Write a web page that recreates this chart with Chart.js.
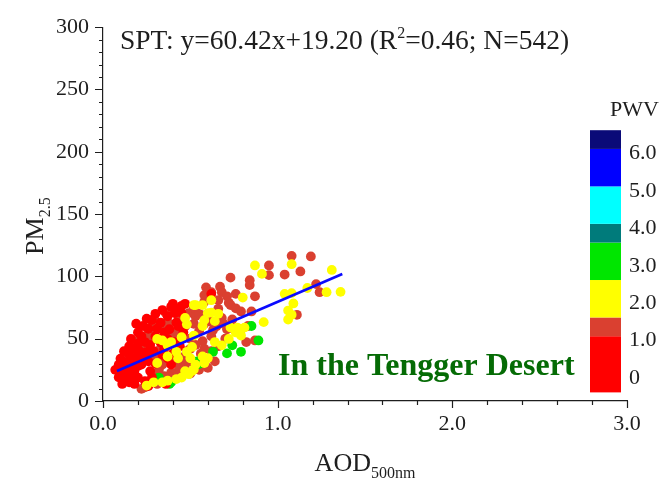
<!DOCTYPE html>
<html>
<head>
<meta charset="utf-8">
<script src="https://cdn.jsdelivr.net/npm/chart.js@4.4.1/dist/chart.umd.min.js"></script>
<style>
  html, body { margin: 0; padding: 0; background: #ffffff; }
  #wrap { width: 662px; height: 482px; }
</style>
</head>
<body>
<div id="wrap"><canvas id="c" width="662" height="482"></canvas></div>
<script>
// AOD(500 nm) / PM2.5 pairs, grouped by precipitable water vapour class
const pwvUnder1 = [
  [0.11,13.7],[0.15,15.0],[0.18,13.7],[0.09,29.2],[0.13,30.5],[0.16,31.8],[0.11,21.5],[0.15,22.7],
  [0.18,24.0],[0.20,18.8],[0.15,37.0],[0.18,42.1],[0.16,49.8],[0.20,55.0],[0.23,60.2],[0.24,47.3],
  [0.25,39.5],[0.26,31.8],[0.22,29.2],[0.27,24.0],[0.33,62.8],[0.37,68.0],[0.41,70.5],[0.39,75.7],
  [0.45,70.5],[0.35,55.0],[0.38,57.6],[0.43,60.2],[0.37,49.8],[0.41,47.3],[0.46,55.0],[0.34,37.0],
  [0.37,34.3],[0.39,29.2],[0.36,13.7],[0.40,78.0],[0.45,76.4],[0.62,86.0],[0.07,25.0],[0.09,19.0],
  [0.12,17.0],[0.13,26.0],[0.16,19.0],[0.17,27.0],[0.19,35.0],[0.21,40.0],[0.20,46.0],[0.22,52.0],
  [0.26,58.0],[0.28,65.0],[0.30,70.0],[0.27,45.0],[0.29,40.0],[0.31,58.0],[0.33,47.0],[0.35,42.0],
  [0.23,35.0],[0.20,28.0],[0.24,16.0],[0.28,19.0],[0.15,44.0],[0.12,40.0],[0.10,34.0],[0.19,62.0],
  [0.25,66.0],[0.30,52.0],[0.34,73.0],[0.43,73.0],[0.42,63.0],[0.47,78.0],[0.44,44.0],[0.40,38.0],
  [0.30,30.0],[0.26,12.0]
];
const pwv1to1_5 = [
  [1.08,116.5],[1.19,116.0],[0.95,108.8],[0.95,101.0],[1.04,101.5],[1.13,104.0],[0.73,99.0],[0.84,97.0],
  [0.84,93.0],[1.22,93.8],[1.24,87.3],[0.87,84.0],[0.76,86.0],[0.72,78.8],[0.59,91.2],[0.67,91.7],
  [0.68,87.3],[0.62,87.3],[0.71,84.0],[0.73,77.0],[0.76,74.4],[0.79,71.9],[0.85,71.9],[0.58,79.6],
  [0.66,80.9],[0.36,70.5],[0.43,69.2],[0.49,70.5],[0.53,68.0],[0.68,66.7],[0.74,65.4],[0.71,57.6],
  [0.75,57.6],[0.79,57.6],[0.83,60.2],[0.82,47.3],[0.87,48.6],[0.64,31.8],[0.60,26.6],[0.47,29.2],
  [0.43,24.0],[0.39,22.7],[0.24,11.0],[0.22,9.8],[1.11,69.2],[0.13,34.3],[0.17,31.8],[0.19,39.5],
  [0.22,44.7],[0.26,55.0],[0.28,60.2],[0.30,49.8],[0.33,42.1],[0.30,34.3],[0.34,29.2],[0.29,21.5],
  [0.31,13.7],[0.38,62.0],[0.42,55.0],[0.47,60.0],[0.50,50.0],[0.55,56.0],[0.58,62.0],[0.53,45.0],
  [0.48,40.0],[0.45,35.0],[0.56,38.0],[0.62,52.0],[0.66,44.0],[0.60,70.0],[0.40,52.0],[0.36,45.0],
  [0.27,38.0],[0.32,25.0],[0.35,20.0],[0.42,33.0],[0.50,32.0],[0.55,25.0],[0.62,40.0],[0.70,50.0],
  [0.65,60.0],[0.52,75.0],[0.45,64.0],[0.14,28.0],[0.18,48.0],[0.25,50.0],[0.30,64.0],[0.58,85.0],
  [0.50,22.0],[0.52,62.0],[0.50,42.0],[0.57,48.0],[0.63,57.0],[0.69,62.0],[0.66,74.0],[0.55,70.0],
  [0.61,64.0],[0.35,62.0],[0.32,35.0],[0.28,52.0],[0.21,36.0],[0.44,28.0],[0.58,42.0]
];
const pwv1_5to2_5 = [
  [0.87,108.8],[1.08,109.8],[1.31,105.2],[0.91,102.0],[1.17,90.7],[1.28,87.3],[1.36,87.6],[1.04,86.0],
  [1.08,86.6],[1.09,78.3],[1.06,72.6],[1.08,69.2],[1.06,65.4],[0.92,63.3],[0.80,83.0],[0.62,80.9],
  [0.66,70.0],[0.62,71.0],[0.52,77.0],[0.47,66.7],[0.48,61.5],[0.58,64.9],[0.64,64.1],[0.57,60.2],
  [0.73,58.9],[0.77,58.9],[0.81,58.9],[0.76,55.0],[0.79,52.5],[0.72,49.8],[0.68,44.7],[0.64,47.3],
  [0.60,34.3],[0.57,35.7],[0.58,30.5],[0.52,25.3],[0.49,21.5],[0.45,18.8],[0.42,17.6],[0.37,16.3],
  [0.34,15.0],[0.25,12.4],[0.29,15.0],[0.31,49.8],[0.34,48.6],[0.39,47.3],[0.37,44.7],[0.42,39.5],
  [0.37,35.7],[0.31,30.5],[0.43,34.3],[0.48,39.5],[0.45,51.2],[0.52,52.5],[0.51,43.4],[0.50,34.3],
  [0.53,29.2],[0.51,24.0],[0.47,24.0],[0.53,77.0],[0.60,70.5],[0.57,77.0]
];
const pwv2_5to3_5 = [
  [0.85,60.2],[0.89,48.6],[0.74,44.7],[0.79,39.5],[0.71,38.2],[0.63,39.5],[0.55,29.7],[0.32,18.8],
  [0.39,15.0],[0.38,13.7],[0.54,31.8]
];

// Linear fit statistics
const fitSlope = 60.42;
const fitIntercept = 19.20;
const fitR2 = 0.46;
const sampleN = 542;
const fitAodRange = [0.08, 1.37];

// Axis ranges and tick steps
const aodRange = [0, 3.0];
const pmRange = [0, 300];
const aodMinorStep = 0.2, aodMajorStep = 1.0;
const pmMinorStep = 10, pmMajorStep = 50;

// PWV colour bar: class edges (bottom to top), colours and labels
const pwvEdges = [-0.5, 1.0, 1.5, 2.5, 3.5, 4.0, 5.0, 6.0, 6.5];
const pwvColors = ['#ff0000', '#da4030', '#ffff00', '#00e600', '#007b7b', '#00ffff', '#0000ff', '#0a0a78'];
const pwvTickValues = [0, 1, 2, 3, 4, 5, 6];

const SERIF = "'Liberation Serif', 'Times New Roman', serif";
const INK = '#1e1e1e';

const toPts = arr => arr.map(([x, y]) => ({ x, y }));
const fitLine = fitAodRange.map(x => ({ x, y: fitSlope * x + fitIntercept }));
const isMultiple = (v, step) => Math.abs(v / step - Math.round(v / step)) < 1e-6;

function pointSet(label, pts, color, order) {
  return {
    label, data: toPts(pts), order,
    backgroundColor: color, borderWidth: 0,
    pointRadius: 4.9, pointHoverRadius: 4.9, showLine: false
  };
}

// Tick marks: long for labelled steps, short for minor steps, pointing outward
const tickMarks = {
  id: 'tickMarks',
  afterDraw(chart) {
    const { ctx } = chart;
    const xs = chart.scales.x, ys = chart.scales.y;
    ctx.save();
    ctx.strokeStyle = INK;
    ctx.lineWidth = 1.2;
    ctx.beginPath();
    xs.ticks.forEach(t => {
      const px = Math.round(xs.getPixelForValue(t.value)) + 0.5;
      const len = isMultiple(t.value, aodMajorStep) ? 7 : 4;
      ctx.moveTo(px, xs.top);
      ctx.lineTo(px, xs.top + len);
    });
    ys.ticks.forEach(t => {
      const py = Math.round(ys.getPixelForValue(t.value)) + 0.5;
      const len = isMultiple(t.value, pmMajorStep) ? 8 : 4;
      ctx.moveTo(ys.right, py);
      ctx.lineTo(ys.right - len, py);
    });
    ctx.stroke();
    ctx.restore();
  }
};

// Text with a smaller raised or lowered part, drawn left to right
function drawRuns(ctx, runs, x, y) {
  let cx = x;
  runs.forEach(r => {
    ctx.font = (r.bold ? 'bold ' : '') + r.size + 'px ' + SERIF;
    ctx.fillText(r.text, cx, y + (r.dy || 0));
    cx += ctx.measureText(r.text).width;
  });
  return cx - x;
}
function runsWidth(ctx, runs) {
  let w = 0;
  runs.forEach(r => {
    ctx.font = (r.bold ? 'bold ' : '') + r.size + 'px ' + SERIF;
    w += ctx.measureText(r.text).width;
  });
  return w;
}

const annotations = {
  id: 'annotations',
  afterDraw(chart) {
    const { ctx, chartArea: ca } = chart;
    const pw = chart.scales.pwv;
    ctx.save();
    ctx.fillStyle = INK;
    ctx.textBaseline = 'alphabetic';
    ctx.textAlign = 'left';

    // Fit equation
    drawRuns(ctx, [
      { text: 'SPT: y=' + fitSlope.toFixed(2) + 'x+' + fitIntercept.toFixed(2) + ' (R', size: 27.5 },
      { text: '2', size: 16, dy: -11 },
      { text: '=' + fitR2.toFixed(2) + '; N=' + sampleN + ')', size: 27.5 }
    ], ca.left + 17, ca.top + 22);

    // X axis title
    const xRuns = [{ text: 'AOD', size: 26 }, { text: '500nm', size: 16, dy: 7 }];
    const xw = runsWidth(ctx, xRuns);
    drawRuns(ctx, xRuns, (ca.left + ca.right) / 2 - xw / 2, 471);

    // Y axis title (rotated)
    const yRuns = [{ text: 'PM', size: 26 }, { text: '2.5', size: 16, dy: 7 }];
    const yw = runsWidth(ctx, yRuns);
    ctx.save();
    ctx.translate(43, (ca.top + ca.bottom) / 2 + 12);
    ctx.rotate(-Math.PI / 2);
    drawRuns(ctx, yRuns, -yw / 2, 0);
    ctx.restore();

    // Site label
    ctx.fillStyle = '#056b05';
    drawRuns(ctx, [{ text: 'In the Tengger Desert', size: 32, bold: true }], ca.left + 175, ca.bottom - 26);

    // PWV colour bar
    const barLeft = ca.right - 37, barWidth = 31;
    for (let i = 0; i < pwvColors.length; i++) {
      const top = pw.getPixelForValue(pwvEdges[i + 1]);
      const bottom = pw.getPixelForValue(pwvEdges[i]);
      ctx.fillStyle = pwvColors[i];
      ctx.fillRect(barLeft, top, barWidth, bottom - top);
    }
    ctx.fillStyle = INK;
    ctx.font = '22px ' + SERIF;
    ctx.textBaseline = 'middle';
    pwvTickValues.forEach(v => {
      ctx.fillText(v === 0 ? '0' : v.toFixed(1), ca.right + 2, pw.getPixelForValue(v) + 4.5);
    });
    ctx.fillText('PWV', ca.right - 17, pw.getPixelForValue(pwvEdges[pwvEdges.length - 1]) - 20);
    ctx.restore();
  }
};

new Chart(document.getElementById('c'), {
  type: 'scatter',
  data: {
    datasets: [
      {
        label: 'Linear fit', data: fitLine, order: 0, showLine: true,
        borderColor: '#0a0aff', borderWidth: 2.6, pointRadius: 0, fill: false
      },
      pointSet('PWV 1.5-2.5', pwv1_5to2_5, '#ffff00', 1),
      pointSet('PWV < 1.0', pwvUnder1, '#ff0000', 2),
      pointSet('PWV 2.5-3.5', pwv2_5to3_5, '#00e600', 3),
      pointSet('PWV 1.0-1.5', pwv1to1_5, '#da4030', 4)
    ]
  },
  options: {
    responsive: false,
    animation: false,
    devicePixelRatio: 1,
    layout: { padding: { left: 0, right: 35, top: 14, bottom: 0 } },
    plugins: { legend: { display: false }, tooltip: { enabled: false }, title: { display: false } },
    scales: {
      x: {
        type: 'linear', position: 'bottom',
        min: aodRange[0], max: aodRange[1],
        grid: { display: false, drawTicks: false },
        border: { display: true, color: INK, width: 1.2 },
        ticks: {
          stepSize: aodMinorStep, autoSkip: false, maxRotation: 0, padding: 10,
          color: INK, font: { family: SERIF, size: 22 },
          callback: v => isMultiple(v, aodMajorStep) ? v.toFixed(1) : ''
        },
        afterFit: s => { s.height = 81; }
      },
      y: {
        type: 'linear', position: 'left',
        min: pmRange[0], max: pmRange[1],
        grid: { display: false, drawTicks: false },
        border: { display: true, color: INK, width: 1.2 },
        ticks: {
          stepSize: pmMinorStep, autoSkip: false, padding: 14,
          color: INK, font: { family: SERIF, size: 22 },
          callback: v => isMultiple(v, pmMajorStep) ? String(v) : ''
        },
        afterFit: s => { s.width = 103; }
      },
      pwv: {
        type: 'linear', position: 'right', display: false,
        min: -0.73, max: 9.25
      }
    }
  },
  plugins: [tickMarks, annotations]
});
</script>
</body>
</html>
